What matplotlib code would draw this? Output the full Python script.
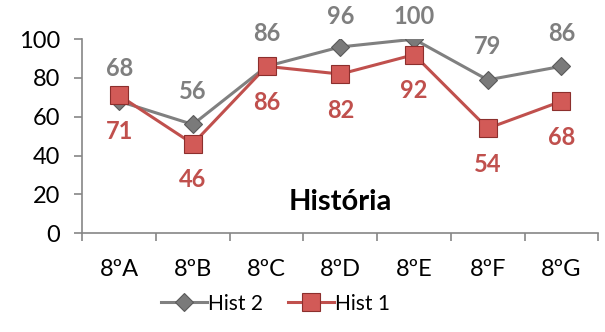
import matplotlib
matplotlib.use('Agg')
import matplotlib.pyplot as plt
import numpy as np

# Data
categories = ['8ºA', '8ºB', '8ºC', '8ºD', '8ºE', '8ºF', '8ºG']
hist2 = [68, 56, 86, 96, 100, 79, 86]
hist1 = [71, 46, 86, 82, 92, 54, 68]
yticks = [0, 20, 40, 60, 80, 100]

plt.rcParams['font.family'] = ['Lato', 'DejaVu Sans']

fig = plt.figure(figsize=(6.05, 3.32), dpi=100)
ax = fig.add_axes([0.136, 0.298, 0.853, 0.584])

x = np.arange(len(categories))
gray = '#808080'
red = '#C0504D'

ax.plot(x, hist2, color=gray, lw=2.2, marker='D', ms=9.5,
        mfc='#7A7A7A', mec='#5A5A5A', mew=0.8, label='Hist 2', zorder=3)
ax.plot(x, hist1, color=red, lw=2.2, marker='s', ms=12.5,
        mfc='#D25A57', mec='#8C2F2D', mew=0.8, label='Hist 1', zorder=4)

ax.set_xlim(-0.5, len(categories) - 0.5)
ax.set_ylim(0, 100)

# gray labels above, kept inside the figure like Excel does
fig_h = fig.get_figheight() * fig.dpi
for xi, v in zip(x, hist2):
    py = ax.transData.transform((xi, v))[1]
    off = min(33, fig_h - 17 - py) / fig.dpi * 72
    ax.annotate(str(v), (xi, v), xytext=(0, off), textcoords='offset points',
                ha='center', va='center', color='#7F7F7F', fontsize=17, fontweight='bold')
for xi, v in zip(x, hist1):
    ax.annotate(str(v), (xi, v), xytext=(0, -26), textcoords='offset points',
                ha='center', va='center', color=red, fontsize=17, fontweight='bold')

ax.text(3, 16, 'História', ha='center', va='center', fontsize=21, fontweight='bold')

ax.set_yticks(yticks)
ax.set_xticks(x)
ax.set_xticklabels(categories)
ax.set_xticks(np.arange(-0.5, len(categories)), minor=True)
ax.tick_params(axis='x', which='major', length=0, pad=19, labelsize=17)
ax.tick_params(axis='x', which='minor', length=6, color='#868686', width=1.2)
ax.tick_params(axis='y', length=6, color='#868686', width=1.2, labelsize=17, pad=10)

for s in ['top', 'right']:
    ax.spines[s].set_visible(False)
for s in ['left', 'bottom']:
    ax.spines[s].set_color('#868686')
    ax.spines[s].set_linewidth(1.2)

ax.legend(loc='upper center', bbox_to_anchor=(0.374, -0.27), ncol=2, frameon=False,
          fontsize=15, handlelength=2.2, columnspacing=1.2, handletextpad=0.05,
          borderaxespad=0)

fig.savefig('out.png', dpi=100)
